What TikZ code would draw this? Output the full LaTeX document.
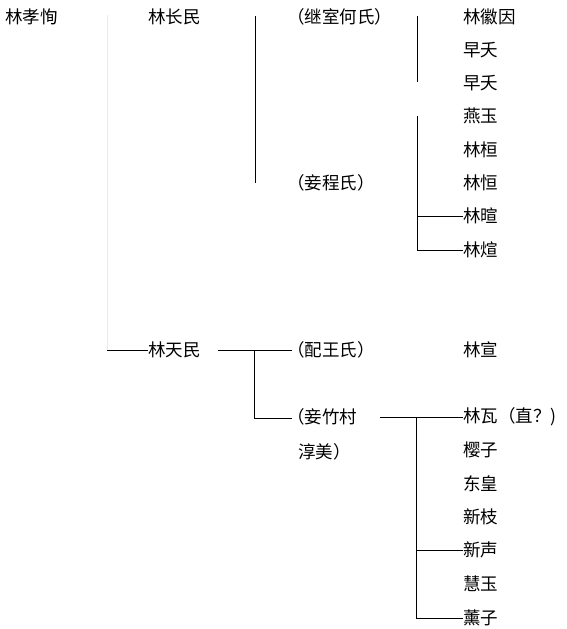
\documentclass[tikz,border=0pt]{standalone}
\usepackage{fontspec}
\setmainfont{Noto Sans CJK SC}
\begin{document}
\begin{tikzpicture}[x=1pt,y=-1pt,
  nm/.style={anchor=west,inner sep=0pt,font=\fontsize{17.5}{17.5}\selectfont},
  ln/.style={line width=0.8pt,black},
  faint/.style={line width=0.8pt,black!8}]
\useasboundingbox (0,0) rectangle (566,629);
% generation 1 and 2
\node[nm] (xiaoxun) at (5,17) {林孝恂};
\node[nm] (changmin) at (148,17) {林长民};
\node[nm] (tianmin) at (148,350) {林天民};
% wives
\node[nm] (he) at (287,17) {（继室何氏）};
\node[nm] (cheng) at (287,183) {（妾程氏）};
\node[nm] (wang) at (287,350) {（配王氏）};
\node[nm] (zhucun) at (287,417) {（妾竹村};
\node[nm] (chunmei) at (298,452) {淳美）};
% children of Lin Changmin
\node[nm] (c1) at (463,17) {林徽因};
\node[nm] (c2) at (463,50) {早夭};
\node[nm] (c3) at (463,83) {早夭};
\node[nm] (c4) at (463,116) {燕玉};
\node[nm] (c5) at (463,150) {林桓};
\node[nm] (c6) at (463,183) {林恒};
\node[nm] (c7) at (463,216) {林暄};
\node[nm] (c8) at (463,250) {林煊};
% children of Lin Tianmin
\node[nm] (d1) at (463,350) {林宣};
\node[nm] (e1) at (463,417) {林瓦（直？)};
\node[nm] (e2) at (463,450) {樱子};
\node[nm] (e3) at (463,484) {东皇};
\node[nm] (e4) at (463,517) {新枝};
\node[nm] (e5) at (463,550) {新声};
\node[nm] (e6) at (463,584) {慧玉};
\node[nm] (e7) at (463,618) {薰子};
% coordinates
\coordinate (g1t) at (107,15);
\coordinate (g1b) at (107,350);
\coordinate (a1t) at (255,16);
\coordinate (a1b) at (255,183);
\coordinate (b1t) at (417,16);
\coordinate (b1b) at (417,82);
\coordinate (b2t) at (417,116);
\coordinate (b2m) at (417,216);
\coordinate (b2b) at (417,250);
\coordinate (t1) at (218,350);
\coordinate (t2) at (292,350);
\coordinate (t3) at (254,350);
\coordinate (t4) at (254,418);
\coordinate (t5) at (292,418);
\coordinate (z1) at (380,417);
\coordinate (z2) at (416,417);
\coordinate (z3) at (416,550);
\coordinate (z4) at (416,618);
% connectors
\draw[faint] (g1t) -- (g1b);
\draw[ln] (g1b) -- (tianmin.west);
\draw[ln] (a1t) -- (a1b);
\draw[ln] (b1t) -- (b1b);
\draw[ln] (b2t) -- (b2b) -- (c8.west);
\draw[ln] (b2m) -- (c7.west);
\draw[ln] (t1) -- (t2);
\draw[ln] (t3) -- (t4) -- (t5);
\draw[ln] (z1) -- (e1.west);
\draw[ln] (z2) -- (z4) -- (e7.west);
\draw[ln] (z3) -- (e5.west);
\end{tikzpicture}
\end{document}
